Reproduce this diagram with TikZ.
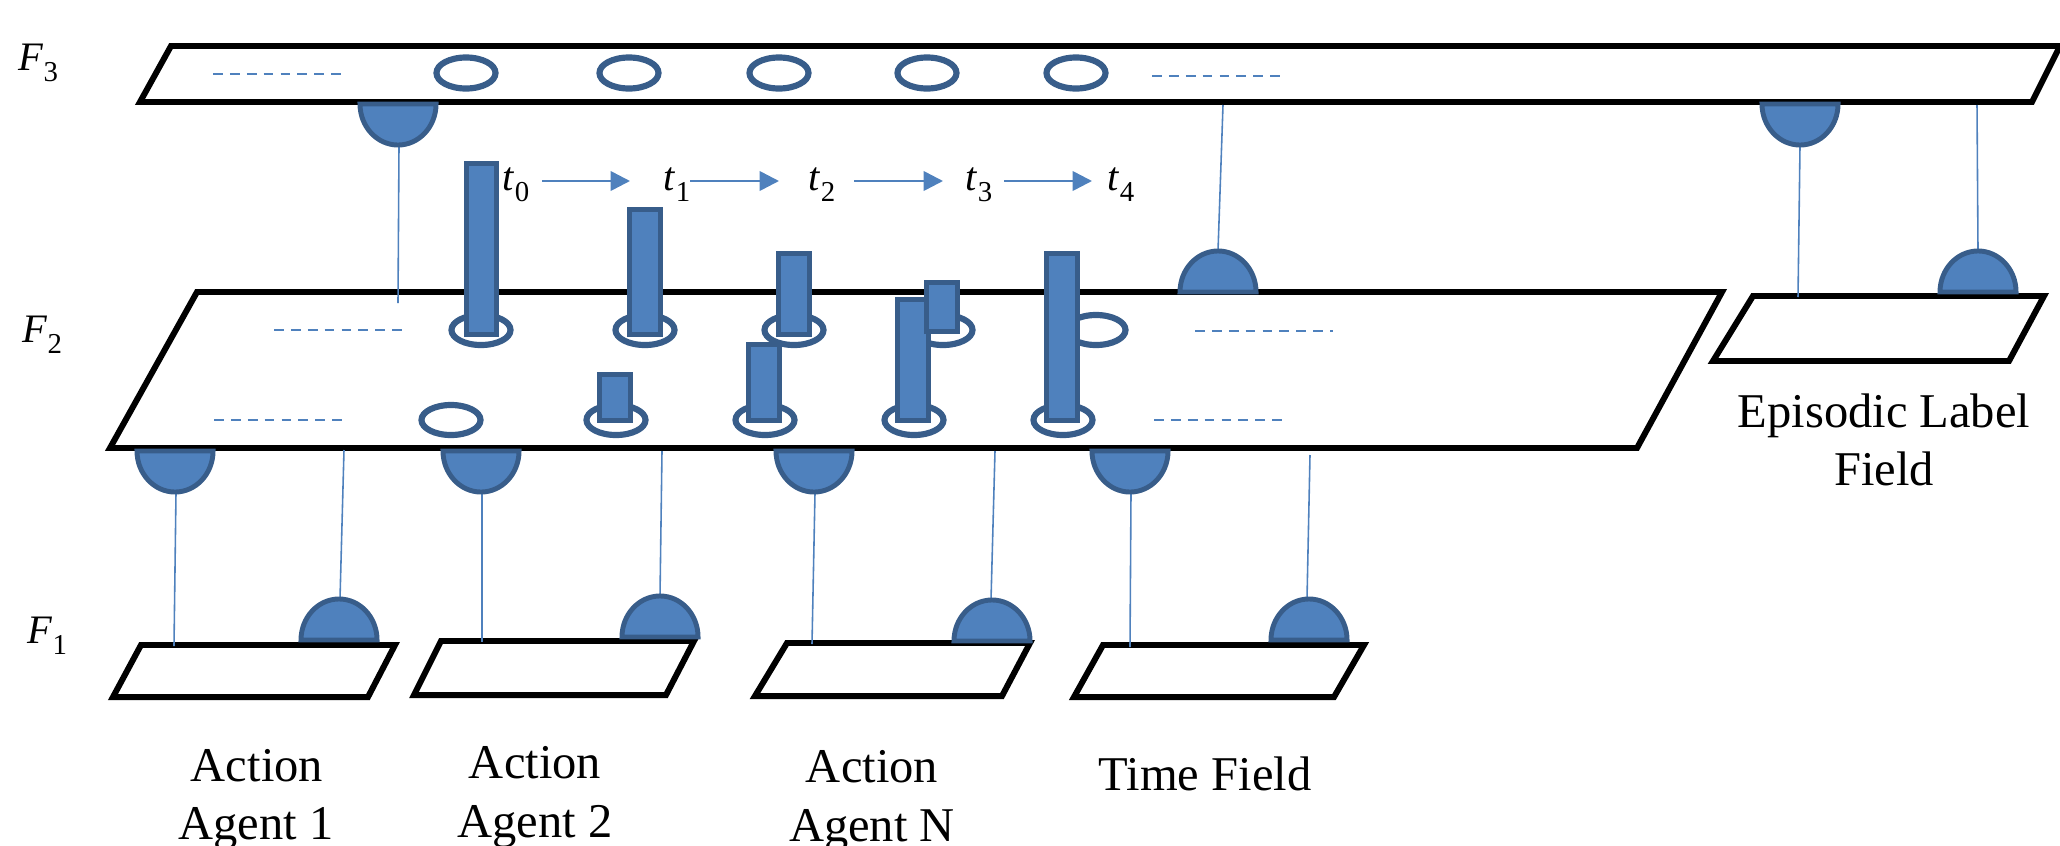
\documentclass[tikz,border=0pt]{standalone}
\usepackage{fontspec}
\setmainfont{Liberation Serif}
\usetikzlibrary{arrows.meta}

\definecolor{paneblue}{HTML}{4F81BD}
\definecolor{rimblue}{HTML}{385D8A}

% italic symbol with a lowered upright index
\newcommand{\symlab}[2]{\textit{#1}\raisebox{-0.28em}{\fontsize{8.2pt}{9pt}\selectfont #2}}
% half-disc receptors: hanging below a field edge, or standing on one
\newcommand{\domedown}[2]{\path[dome] (#1-38,#2) arc[start angle=180,end angle=360,x radius=0.38cm,y radius=0.41cm] -- cycle;}
\newcommand{\domeup}[2]{\path[dome] (#1-38,#2) arc[start angle=180,end angle=0,x radius=0.38cm,y radius=0.41cm] -- cycle;}

\begin{document}
\begin{tikzpicture}[x=0.01cm,y=-0.01cm,
  plane/.style={draw=black,line width=1.7pt,fill=white,line join=miter},
  ring/.style={draw=rimblue,line width=1.75pt},
  bar/.style={draw=rimblue,fill=paneblue,line width=1.5pt},
  dome/.style={draw=rimblue,fill=paneblue,line width=1.4pt},
  link/.style={draw=paneblue,line width=0.45pt},
  trail/.style={draw=paneblue,line width=0.7pt,dash pattern=on 2.8pt off 2pt},
  tick/.style={draw=paneblue,line width=0.75pt,-{Triangle[length=5.5pt,width=5.5pt]}},
  lbl/.style={font=\fontsize{13.8pt}{16.5pt}\selectfont,inner sep=0pt,anchor=base},
  sym/.style={font=\fontsize{11.5pt}{13pt}\selectfont,inner sep=0pt,anchor=base west}
]
\useasboundingbox (0,0) rectangle (2060,845);

% ---------- fields ----------
\draw[plane] (171,46) -- (2060,46) -- (2032,102) -- (140,102) -- cycle;          % F3
\draw[plane] (197,292) -- (1722,292) -- (1637,448) -- (110,448) -- cycle;        % F2
\draw[plane] (1753,296) -- (2044,296) -- (2009,361) -- (1713,361) -- cycle;      % episodic label field
\draw[plane] (141,645) -- (395,645) -- (368,697) -- (113,697) -- cycle;          % F1 fields
\draw[plane] (441,641) -- (694,641) -- (666,695) -- (414,695) -- cycle;
\draw[plane] (787,643) -- (1030,643) -- (1002,696) -- (755,696) -- cycle;
\draw[plane] (1103,645) -- (1364,645) -- (1334,697) -- (1074,697) -- cycle;

% ---------- layer labels ----------
\node[sym] (f3) at (18,70) {\symlab{F}{3}};
\node[sym] (f2) at (22,342) {\symlab{F}{2}};
\node[sym] (f1) at (27,643) {\symlab{F}{1}};

% ---------- dashed continuations ----------
\draw[trail] (213,74) -- (348,74);
\draw[trail] (1152,76) -- (1287,76);
\draw[trail] (274,330) -- (407,330);
\draw[trail] (1195,331) -- (1333,331);
\draw[trail] (214,420) -- (347,420);
\draw[trail] (1154,420) -- (1289,420);

% ---------- connection end points ----------
\coordinate (d3a) at (399,146);  \coordinate (p2a) at (398,303);
\coordinate (p3b) at (1223,105); \coordinate (u2b) at (1218,251);
\coordinate (d3c) at (1800,146); \coordinate (pe)  at (1798,297);
\coordinate (p3d) at (1977,105); \coordinate (ue)  at (1978,251);

\coordinate (d2a) at (176,493);  \coordinate (f1a) at (174,646);
\coordinate (d2b) at (482,493);  \coordinate (f1b) at (482,642);
\coordinate (d2c) at (815,493);  \coordinate (f1c) at (812,644);
\coordinate (d2d) at (1131,493); \coordinate (f1d) at (1130,647);

\coordinate (p2e) at (344,450);  \coordinate (u1a) at (340,599);
\coordinate (p2f) at (662,451);  \coordinate (u1b) at (660,596);
\coordinate (p2g) at (995,451);  \coordinate (u1c) at (991,600);
\coordinate (p2h) at (1310,455); \coordinate (u1d) at (1307,599);

% ---------- connections ----------
\draw[link] (d3a) -- (p2a);
\draw[link] (p3b) -- (u2b);
\draw[link] (d3c) -- (pe);
\draw[link] (p3d) -- (ue);
\draw[link] (d2a) -- (f1a);
\draw[link] (d2b) -- (f1b);
\draw[link] (d2c) -- (f1c);
\draw[link] (d2d) -- (f1d);
\draw[link] (p2e) -- (u1a);
\draw[link] (p2f) -- (u1b);
\draw[link] (p2g) -- (u1c);
\draw[link] (p2h) -- (u1d);

% ---------- receptors ----------
\domedown{398}{104}
\domedown{1800}{104}
\domeup{1218}{292}
\domeup{1978}{292}
\domedown{175}{451}
\domedown{481}{451}
\domedown{814}{451}
\domedown{1130}{451}
\domeup{339}{640}
\domeup{660}{637}
\domeup{992}{641}
\domeup{1309}{640}

% ---------- nodes in F3 ----------
\foreach \x in {466,629,779,927,1076}
  \draw[ring] (\x,73) ellipse[x radius=0.295cm,y radius=0.155cm];

% ---------- nodes in F2 ----------
\foreach \x in {481,645,794,943,1096}
  \draw[ring] (\x,330) ellipse[x radius=0.295cm,y radius=0.15cm];
\foreach \x in {451,616,765,914,1063}
  \draw[ring] (\x,420) ellipse[x radius=0.295cm,y radius=0.15cm];

% activity bars (lower row first, upper row above)
\draw[bar] (599.5,374.5) rectangle (630.5,420.5);
\draw[bar] (748.5,344.5) rectangle (779.5,420.5);
\draw[bar] (897.5,299.5) rectangle (928.5,420.5);
\draw[bar] (1046.5,253.5) rectangle (1077.5,420.5);
\draw[bar] (466.5,163.5) rectangle (496.5,334.5);
\draw[bar] (629.5,209.5) rectangle (660.5,334.5);
\draw[bar] (778.5,253.5) rectangle (809.5,334.5);
\draw[bar] (926.5,282.5) rectangle (957.5,331.5);

% ---------- time steps ----------
\node[sym] (t0) at (502,190) {\symlab{t}{0}};
\node[sym] (t1) at (663,190) {\symlab{t}{1}};
\node[sym] (t2) at (808,190) {\symlab{t}{2}};
\node[sym] (t3) at (965,190) {\symlab{t}{3}};
\node[sym] (t4) at (1107,190) {\symlab{t}{4}};
\coordinate (s0) at (542,181);  \coordinate (e0) at (630,181);
\coordinate (s1) at (690,181);  \coordinate (e1) at (779,181);
\coordinate (s2) at (854,181);  \coordinate (e2) at (943,181);
\coordinate (s3) at (1004,181); \coordinate (e3) at (1092,181);
\draw[tick] (s0) -- (e0);
\draw[tick] (s1) -- (e1);
\draw[tick] (s2) -- (e2);
\draw[tick] (s3) -- (e3);

% ---------- field names ----------
\node[lbl] (act1) at (257,781) {Action};
\node[lbl] (agt1) at (256,839) {Agent 1};
\node[lbl] (act2) at (535,778) {Action};
\node[lbl] (agt2) at (535,837) {Agent 2};
\node[lbl] (actn) at (872,782) {Action};
\node[lbl] (agtn) at (872,841) {Agent N};
\node[lbl] (time) at (1205,790) {Time Field};
\node[lbl] (epi)  at (1884,427) {Episodic Label};
\node[lbl] (epf)  at (1884,485) {Field};
\end{tikzpicture}
\end{document}
